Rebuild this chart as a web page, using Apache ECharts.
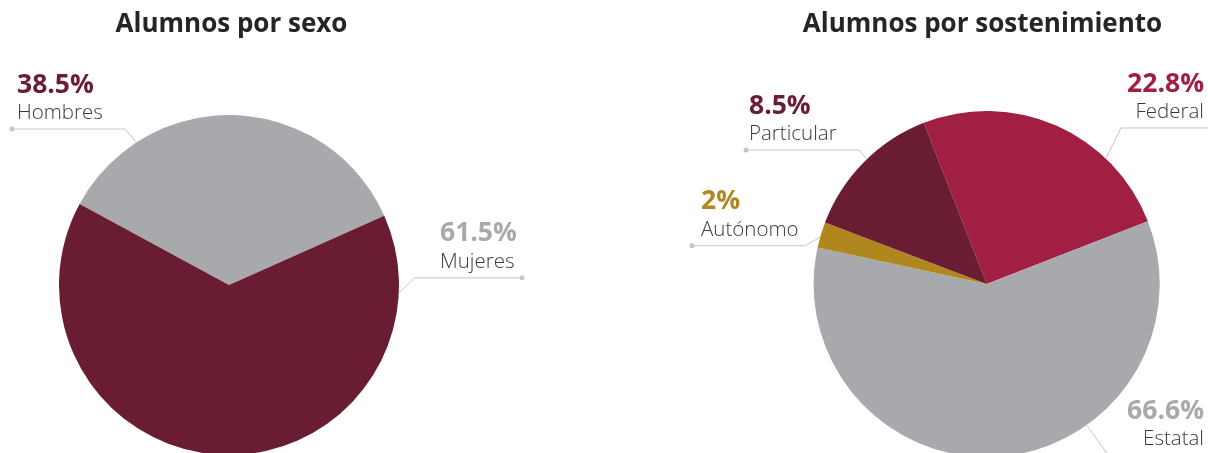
<!DOCTYPE html>
<html>
<head>
<meta charset="utf-8">
<script src="https://cdn.jsdelivr.net/npm/echarts@6/dist/echarts.min.js"></script>
<style>
html, body { margin: 0; padding: 0; background: #fff; }
#grafica { width: 1208px; height: 453px; }
</style>
</head>
<body>
<div id="grafica"></div>
<script>
// Datos
const titulos = ['Alumnos por sexo', 'Alumnos por sostenimiento'];

const sexoCategorias = ['Hombres', 'Mujeres'];
const sexoPorcentajes = ['38.5%', '61.5%'];
// tamaño de los sectores tal como aparecen dibujados
const sexoSectores = [35.4, 64.6];

const sostCategorias = ['Federal', 'Estatal', 'Autónomo', 'Particular'];
const sostPorcentajes = ['22.8%', '66.6%', '2%', '8.5%'];
const sostSectores = [25.0, 59.3, 2.4, 13.3];

// colores
const GRIS = '#a8a9ac';
const GUINDA = '#6a1c32';
const ROJO = '#a11f43';
const ORO = '#b0861f';
const LINEA = '#c6c6c6';
const FUENTE = '"Open Sans", "Noto Sans", sans-serif';

// configuración de cada pastel y de sus etiquetas
const pies = [
    {
        titulo: titulos[0], tituloX: 231.5,
        centro: [229, 285], radio: 170, inicio: 151.5,
        categorias: sexoCategorias, porcentajes: sexoPorcentajes, valores: sexoSectores,
        colores: [GRIS, GUINDA],
        coloresTexto: [GUINDA, GRIS],
        etiquetas: [
            { ancla: 123, codoAng: 123.7, codoLen: 187.5, finX: 12, textoX: 17, align: 'left' },
            { ancla: -2.7, codoAng: 2.2, codoLen: 186, finX: 522, textoX: 440, align: 'left' }
        ]
    },
    {
        titulo: titulos[1], tituloX: 982.5,
        centro: [986.7, 284], radio: 173, inicio: 111.3,
        categorias: sostCategorias, porcentajes: sostPorcentajes, valores: sostSectores,
        colores: [ROJO, GRIS, ORO, GUINDA],
        coloresTexto: [ROJO, GRIS, ORO, GUINDA],
        etiquetas: [
            { ancla: 46.4, codoAng: 49.3, codoLen: 205.8, finX: 1212, textoX: 1204, align: 'right' },
            { ancla: -54.7, codoAng: -54.6, codoLen: 209.9, finX: 1212, textoX: 1204, align: 'right' },
            { ancla: 164.3, codoAng: 168.1, codoLen: 185.7, finX: 692, textoX: 701, align: 'left' },
            { ancla: 133.8, codoAng: 133.6, codoLen: 185, finX: 746, textoX: 749, align: 'left' }
        ]
    }
];

const rad = a => a * Math.PI / 180;

// puntos de la línea guía: borde del sector, codo y final horizontal
function puntosLinea(p, e) {
    const [cx, cy] = p.centro;
    const a = [cx + p.radio * Math.cos(rad(e.ancla)), cy - p.radio * Math.sin(rad(e.ancla))];
    const b = [cx + e.codoLen * Math.cos(rad(e.codoAng)), cy - e.codoLen * Math.sin(rad(e.codoAng))];
    return [a, b, [e.finX, b[1]]];
}

function construirSerie(p) {
    const rich = { n: { fontFamily: FUENTE, fontSize: 20.5, fontWeight: 300, color: '#3a3a3a', lineHeight: 22 } };
    p.coloresTexto.forEach((c, j) => {
        rich['p' + j] = { fontFamily: FUENTE, fontSize: 26.5, fontWeight: 'bold', color: c, lineHeight: 34 };
    });
    return {
        type: 'pie',
        center: p.centro,
        radius: p.radio,
        startAngle: p.inicio,
        clockwise: true,
        avoidLabelOverlap: false,
        silent: true,
        animation: false,
        itemStyle: { borderWidth: 0 },
        data: p.categorias.map((c, j) => ({
            name: c,
            value: p.valores[j],
            itemStyle: { color: p.colores[j] }
        })),
        label: {
            show: true,
            position: 'outside',
            formatter: params => '{p' + params.dataIndex + '|' + p.porcentajes[params.dataIndex] + '}\n{n|' + params.name + '}',
            rich: rich
        },
        labelLine: { show: true, smooth: false, lineStyle: { color: LINEA, width: 1 } },
        labelLayout: params => {
            const e = p.etiquetas[params.dataIndex];
            const pts = puntosLinea(p, e);
            return {
                x: e.textoX,
                y: pts[2][1] - 5,
                align: e.align,
                verticalAlign: 'bottom',
                labelLinePoints: pts
            };
        }
    };
}

// puntos al final de cada línea guía
const puntos = [];
pies.forEach(p => {
    p.etiquetas.forEach(e => {
        const fin = puntosLinea(p, e)[2];
        puntos.push({ type: 'circle', shape: { cx: fin[0], cy: fin[1], r: 2.5 }, style: { fill: LINEA }, silent: true });
    });
});

const chart = echarts.init(document.getElementById('grafica'), null, { renderer: 'canvas' });
chart.setOption({
    backgroundColor: '#fff',
    animation: false,
    title: pies.map(p => ({
        text: p.titulo,
        left: p.tituloX,
        top: 12,
        textAlign: 'center',
        padding: 0,
        textStyle: { fontFamily: FUENTE, fontSize: 26, fontWeight: 'bold', color: '#252525' }
    })),
    graphic: puntos,
    series: pies.map(construirSerie)
});
</script>
</body>
</html>
